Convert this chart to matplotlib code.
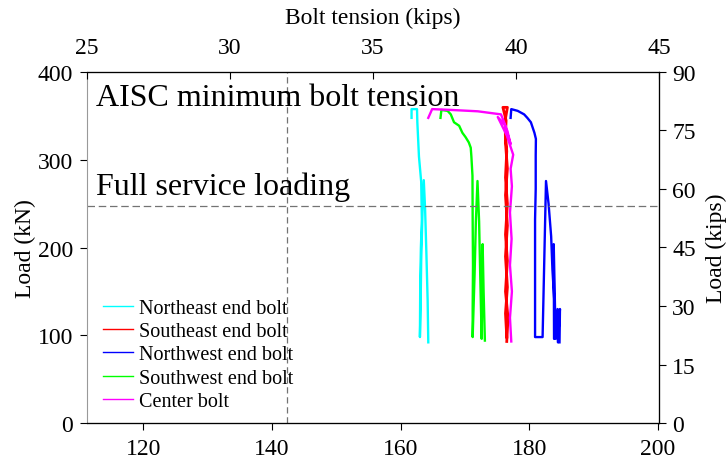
import matplotlib
matplotlib.use("Agg")
import matplotlib.pyplot as plt

plt.rcParams['font.family'] = ['Liberation Serif', 'DejaVu Serif']

KN_PER_KIP = 4.448222

# bolt tension (kN) and applied load (kN)
ne_tension = [161.7, 161.7, 162.55, 162.6, 162.85, 163.2, 163.3, 163.15, 163.05, 163.0,
              163.1, 163.2, 163.4, 163.6, 163.8, 164.0, 164.2, 164.3]
ne_load = [348, 358, 358, 343, 304, 275, 232, 200, 160, 98,
           130, 185, 240, 277, 245, 195, 140, 92]

se_tension = [176.5, 176.7, 176.3, 176.6, 176.3, 176.6, 176.3, 176.5, 176.3, 176.4, 175.9,
              176.6, 176.25, 176.3, 176.6, 176.3, 176.6, 176.3, 176.6, 176.3, 176.5]
se_load = [93, 120, 150, 185, 215, 250, 280, 310, 330, 345, 360,
           360, 345, 320, 290, 260, 225, 190, 155, 125, 98]

nw_tension = [177.1, 177.2, 178.2, 179.2, 179.7, 180.25, 180.8, 181.03, 181.0, 181.0, 180.9, 180.9, 180.9,
              182.07, 182.6, 183.0, 183.4, 183.6, 183.9, 184.1, 183.8, 183.85, 184.4, 184.45, 184.77, 184.7]
nw_load = [348, 358, 356, 352, 348, 343, 331, 324, 305, 267, 232, 150, 98,
           98, 276, 250, 213, 175, 138, 96, 204, 96, 130, 92, 130, 92]

sw_tension = [166.2, 166.34, 167.3, 167.8, 168.3, 169.1, 169.6, 170.1, 170.6, 170.9, 171.0, 171.17, 171.2,
              171.25, 171.2, 171.2, 171.5, 171.7, 171.95, 172.2, 172.4, 172.6, 172.75, 172.9, 173.1]
sw_load = [348, 357, 356, 352, 343, 339, 331, 326, 320, 314, 304, 282, 232,
           180, 130, 98, 170, 230, 276, 230, 160, 96, 204, 150, 94]

c_tension = [177.2, 177.0, 177.3, 177.0, 177.25, 177.0, 177.3, 177.1, 177.5, 176.5, 175.1, 176.2,
             177.1, 176.6, 176.1, 175.6, 172.0, 168.0, 164.9, 164.3]
c_load = [93, 120, 150, 180, 210, 240, 270, 290, 306, 328, 349, 340,
          318, 333, 343, 352, 355.5, 357, 358, 348]

aisc_min_kips = 32.0
service_load_kn = 247.5

fig = plt.figure(figsize=(7.27, 4.64), dpi=100)
ax = fig.add_axes([0.1193, 0.0862, 0.9065 - 0.1193, 0.8427 - 0.0862])

ax.plot(ne_tension, ne_load, color='#00ffff', lw=1.7, label='Northeast end bolt')
ax.plot(se_tension, se_load, color='#ff0000', lw=2.0, label='Southeast end bolt')
ax.plot(nw_tension, nw_load, color='#0000ff', lw=1.7, label='Northwest end bolt')
ax.plot(sw_tension, sw_load, color='#00ff00', lw=1.7, label='Southwest end bolt')
ax.plot(c_tension, c_load, color='#ff00ff', lw=1.7, label='Center bolt')

ax.axvline(aisc_min_kips * KN_PER_KIP, color='0.45', lw=0.9, ls=(0, (5, 3)))
ax.axhline(service_load_kn, color='0.45', lw=0.9, ls=(0, (6, 3)))

ax.text(0.016, 0.907, 'AISC minimum bolt tension', transform=ax.transAxes,
        fontsize=23, va='baseline', ha='left')
ax.text(0.016, 0.652, 'Full service loading', transform=ax.transAxes,
        fontsize=23, va='baseline', ha='left')

ax.set_xlim(25 * KN_PER_KIP, 45 * KN_PER_KIP)
ax.set_ylim(0, 90 * KN_PER_KIP)
ax.set_xticks([120, 140, 160, 180, 200])
ax.set_yticks([0, 100, 200, 300, 400])
ax.set_ylabel('Load (kN)', fontsize=17, labelpad=1)
ax.tick_params(axis='x', direction='out', length=5, width=0.8, labelsize=17, pad=6)
ax.tick_params(axis='y', direction='out', length=5, width=0.8, labelsize=17, pad=5)
ax.spines['left'].set_color('0.6')

leg = ax.legend(loc='lower left', bbox_to_anchor=(0.028, 0.035), frameon=False,
                fontsize=14.5, handlelength=1.5, handletextpad=0.3, labelspacing=0.2,
                borderpad=0, borderaxespad=0)
for line in leg.get_lines():
    line.set_linewidth(1.0)

# top axis in kips
axt = ax.twiny()
axt.set_xlim(25, 45)
axt.set_xticks([25, 30, 35, 40, 45])
axt.set_xlabel('Bolt tension (kips)', fontsize=17, labelpad=10)
axt.tick_params(axis='x', direction='in', length=5, width=0.8, labelsize=17, pad=10)

# right axis in kips
axr = ax.twinx()
axr.set_ylim(0, 90)
axr.set_yticks([0, 15, 30, 45, 60, 75, 90])
axr.set_ylabel('Load (kips)', fontsize=17, labelpad=7)
axr.tick_params(axis='y', direction='out', length=5, width=0.8, labelsize=17, pad=4.5)
axr.spines['left'].set_visible(False)
axt.spines['left'].set_visible(False)

fig.savefig('out.png', dpi=100)
